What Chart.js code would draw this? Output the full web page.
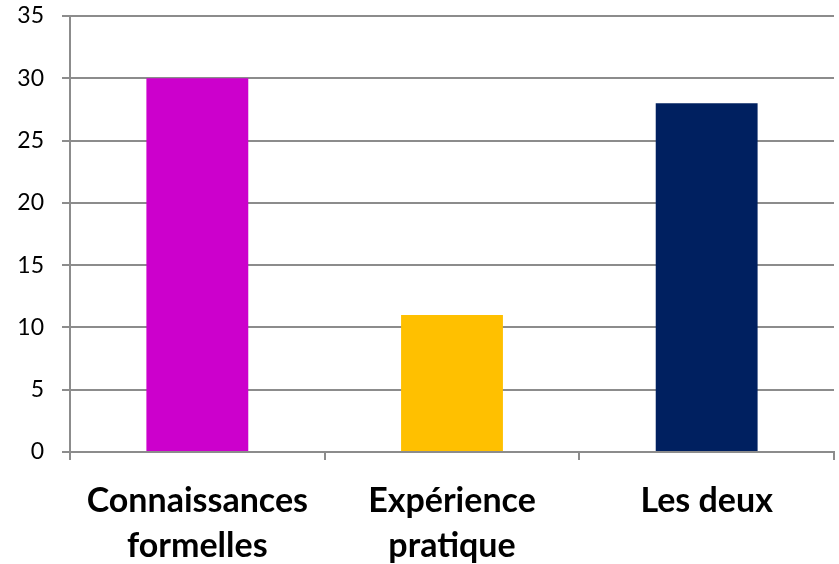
<!DOCTYPE html>
<html>
<head>
<meta charset="utf-8">
<script src="https://cdn.jsdelivr.net/npm/chart.js@4"></script>
<style>
    html, body { margin: 0; padding: 0; background: #fff; }
    #wrap { width: 839px; height: 564px; }
</style>
</head>
<body>
<div id="wrap"><canvas id="barChart"></canvas></div>
<script>
const categories = [['Connaissances', 'formelles'], ['Expérience', 'pratique'], 'Les deux'];
const values = [30, 11, 28];
const barColors = ['#cc00cc', '#ffc000', '#002060'];

const gridColor = '#8c8c8c';

document.addEventListener('DOMContentLoaded', function () {
    const ctx = document.getElementById('barChart').getContext('2d');
    new Chart(ctx, {
        type: 'bar',
        data: {
            labels: categories,
            datasets: [{
                data: values,
                backgroundColor: barColors,
                borderWidth: 0,
                barPercentage: 0.4,
                categoryPercentage: 1
            }]
        },
        options: {
            responsive: true,
            maintainAspectRatio: false,
            animation: false,
            layout: {
                padding: { top: 16, right: 5, left: 0, bottom: 0 }
            },
            plugins: {
                legend: { display: false },
                tooltip: { enabled: false }
            },
            scales: {
                x: {
                    grid: {
                        drawOnChartArea: false,
                        offset: true,
                        tickLength: 8,
                        color: gridColor,
                        lineWidth: 2
                    },
                    border: { color: gridColor, width: 2 },
                    ticks: {
                        color: '#000',
                        padding: 18,
                        maxRotation: 0,
                        font: { family: 'Lato', size: 34, weight: 'bold', lineHeight: 1.33 }
                    },
                    afterFit: function (scale) {
                        scale.height = 112;
                        scale.paddingLeft = 0;
                        scale.paddingRight = 0;
                    }
                },
                y: {
                    min: 0,
                    max: 35,
                    ticks: {
                        stepSize: 5,
                        color: '#000',
                        padding: 18,
                        font: { family: 'Lato', size: 23 }
                    },
                    grid: {
                        color: gridColor,
                        lineWidth: 2,
                        tickLength: 8
                    },
                    border: { color: gridColor, width: 2 },
                    afterFit: function (scale) {
                        scale.width = 70;
                        scale.paddingTop = 0;
                        scale.paddingBottom = 0;
                    }
                }
            }
        }
    });
});
</script>
</body>
</html>
